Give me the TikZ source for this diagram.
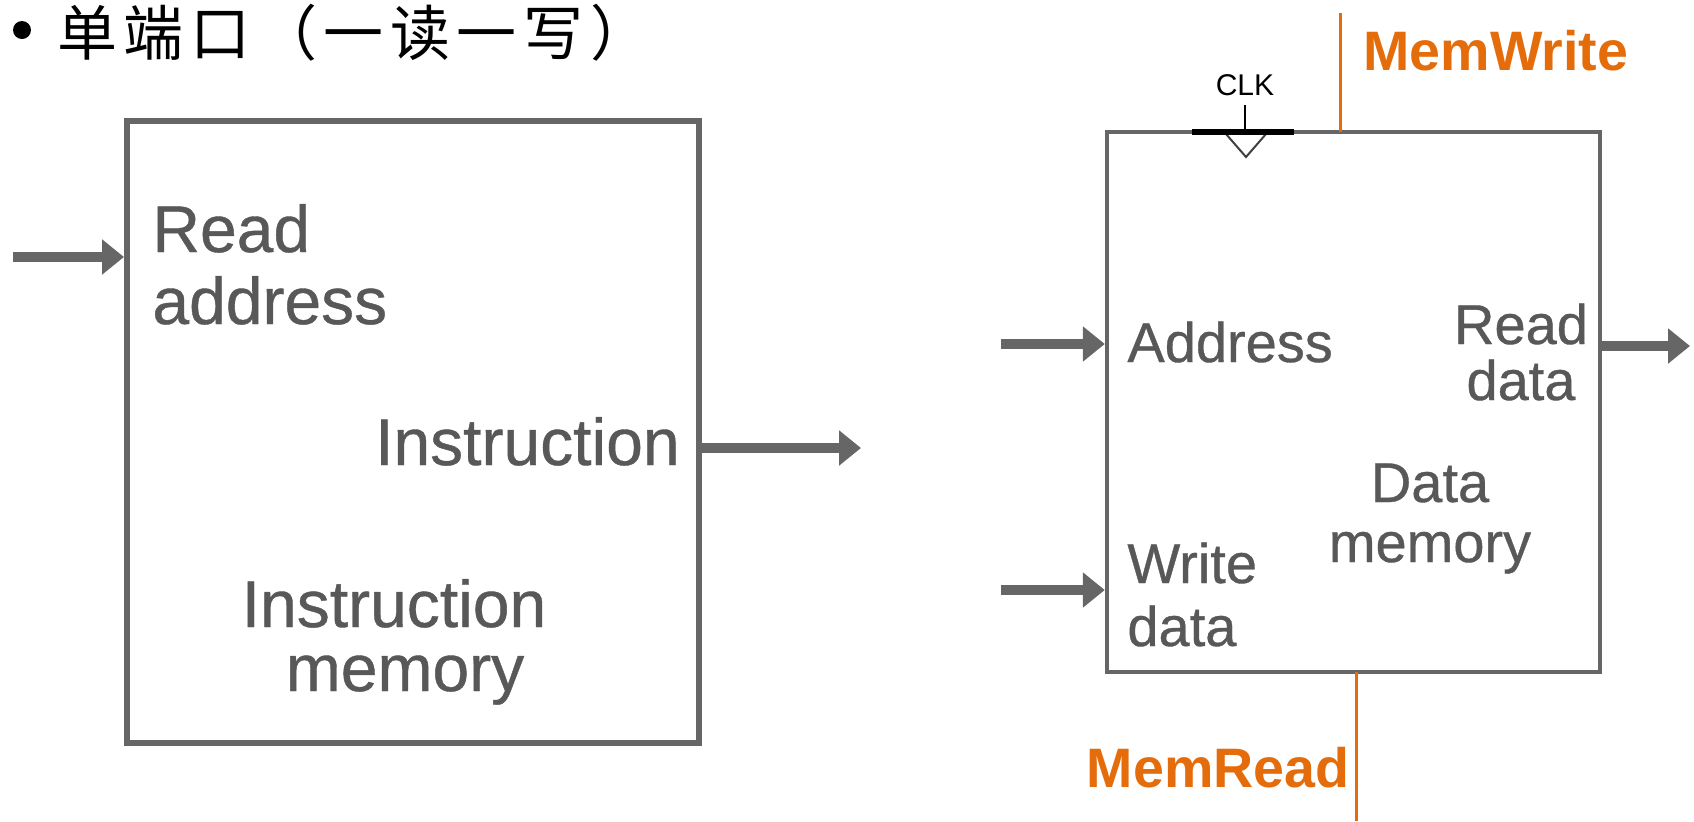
\documentclass[tikz,border=0pt]{standalone}
\usepackage{fontspec}
\setmainfont{Liberation Sans}
\newfontfamily\cjk[LetterSpace=11]{Noto Sans CJK SC}
\newfontfamily\heavysans[FakeBold=0.6]{Liberation Sans}
\usetikzlibrary{arrows.meta}
\definecolor{boxgray}{HTML}{666666}
\definecolor{txtgray}{HTML}{585858}
\definecolor{sigorange}{HTML}{E46C0A}

\begin{document}
\begin{tikzpicture}[x=0.5pt,y=-0.5pt,
  blk/.style={draw=boxgray, fill=white, inner sep=0pt},
  bus/.style={draw=boxgray, line width=4.6pt, -{Triangle[length=11pt,width=17pt]}},
  lbl/.style={text=txtgray, font=\heavysans\fontsize{33}{36}\selectfont, inner sep=0pt},
  dlbl/.style={text=txtgray, font=\heavysans\fontsize{28}{30}\selectfont, inner sep=0pt},
  ctl/.style={draw=sigorange, line width=1.5pt},
  ctltxt/.style={text=sigorange, font=\bfseries\fontsize{27.8}{30}\selectfont, inner sep=0pt}]

\useasboundingbox (0,0) rectangle (1694,821);

% heading with its list bullet
\node[circle, fill=black, minimum size=9pt, inner sep=0pt] (bullet) at (22,30) {};
\node[anchor=base west, font=\cjk\fontsize{30}{34}\selectfont, inner sep=0pt] (title) at (57,55) {单端口（一读一写）};

% instruction memory block
\node[blk, line width=3pt, minimum width=286pt, minimum height=311pt] (imem) at (413,432) {};
\node[lbl, anchor=base west] (ra1) at (152,252) {Read};
\node[lbl, anchor=base west] (ra2) at (152,324) {address};
\node[lbl, anchor=base east] (ins) at (680,465) {Instruction};
\node[lbl, anchor=base] (im1) at (394,627) {Instruction};
\node[lbl, anchor=base] (im2) at (405,691) {memory};

\coordinate (raIn) at (13,257);
\coordinate (insOut) at (861,448);
\draw[bus] (raIn) -- (raIn -| imem.west);
\draw[bus] (insOut -| imem.east) -- (insOut);

% data memory block
\node[blk, line width=2.2pt, minimum width=246.5pt, minimum height=270pt] (dmem) at (1353.5,402) {};
\node[dlbl, anchor=base west] (addr) at (1127,362) {Address};
\node[dlbl, anchor=base] (rd1) at (1521,344) {Read};
\node[dlbl, anchor=base] (rd2) at (1521,400) {data};
\node[dlbl, anchor=base] (dm1) at (1430,502) {Data};
\node[dlbl, anchor=base] (dm2) at (1430,562) {memory};
\node[dlbl, anchor=base west] (wd1) at (1127,583) {Write};
\node[dlbl, anchor=base west] (wd2) at (1127,646) {data};

\coordinate (adIn) at (1001,344);
\coordinate (wdIn) at (1001,590);
\coordinate (rdOut) at (1690,346);
\draw[bus] (adIn) -- (adIn -| dmem.west);
\draw[bus] (wdIn) -- (wdIn -| dmem.west);
\draw[bus] (rdOut -| dmem.east) -- (rdOut);

% clock input
\node[anchor=base, font=\fontsize{15}{16}\selectfont, inner sep=0pt] (clk) at (1245,95) {CLK};
\coordinate (clkTop) at (1245,105);
\coordinate (clkPin) at (1245,132);
\coordinate (barL) at (1192,132);
\coordinate (barR) at (1294,132);
\draw[line width=0.8pt] (clkTop) -- (clkPin);
\draw[line width=1pt, draw=black!75, line join=miter] (1226,134) -- (1246,157) -- (1266,134);
\draw[line width=2.6pt] (barL) -- (barR);

% control signals
\coordinate (mwTop) at (1340,13);
\coordinate (mwPin) at (1340,132);
\draw[ctl] (mwTop) -- (mwPin);
\node[ctltxt, anchor=base west] (mw) at (1363,70) {MemWrite};

\coordinate (mrPin) at (1356,672);
\coordinate (mrEnd) at (1356,821);
\draw[ctl] (mrPin) -- (mrEnd);
\node[ctltxt, anchor=base east] (mr) at (1350,787) {MemRead};
\end{tikzpicture}
\end{document}
